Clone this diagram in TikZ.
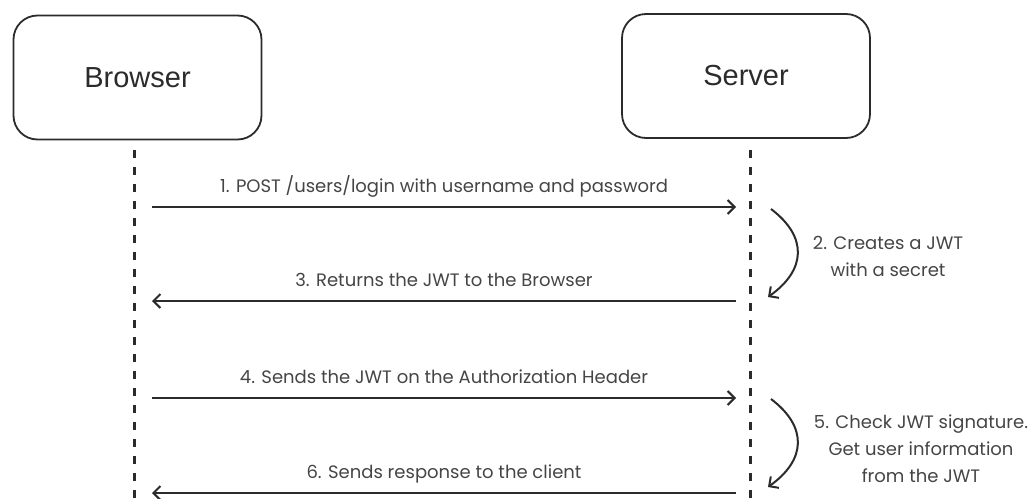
\documentclass[tikz,border=0pt]{standalone}
\usepackage{fontspec}
\setmainfont{Liberation Sans}
\newfontfamily\msgfont{Poppins}
\usetikzlibrary{arrows.meta}
\definecolor{ink}{HTML}{2B2B2B}
\definecolor{msgink}{HTML}{454545}
\tikzset{
  actor/.style={draw=ink, line width=1.8pt, rounded corners=24pt, minimum width=248pt, minimum height=124pt, font=\fontsize{29}{32}\selectfont, text=ink},
  lifeline/.style={draw=ink, line width=3pt, dash pattern=on 8pt off 9pt},
  msg/.style={draw=ink, line width=2pt, -{Straight Barb[length=7pt, width=14pt, line width=2pt]}},
  selfmsg/.style={draw=ink, line width=2pt, -{Straight Barb[length=7pt, width=14pt, line width=2pt]}},
  msglabel/.style={font=\msgfont\fontsize{18}{27}\selectfont, text=msgink, anchor=base, yshift=15pt, inner sep=0pt},
  notelabel/.style={font=\msgfont\fontsize{18}{27}\selectfont, text=msgink, align=center}
}
\begin{document}
\begin{tikzpicture}[x=1pt, y=-1pt]
  \useasboundingbox (0,0) rectangle (1032,498);
  % participants
  \node[actor] (browser) at (137.5,77.5) {Browser};
  \node[actor] (server) at (746,76) {Server};
  % lifelines
  \coordinate (bTop) at (134,150);
  \coordinate (bBot) at (134,500);
  \coordinate (sTop) at (750,150);
  \coordinate (sBot) at (750,500);
  \draw[lifeline] (bTop) -- (bBot);
  \draw[lifeline] (sTop) -- (sBot);
  % message end points
  \coordinate (b1) at (152,207); \coordinate (s1) at (736,207);
  \coordinate (s3) at (736,301); \coordinate (b3) at (152,301);
  \coordinate (b4) at (152,398); \coordinate (s4) at (736,398);
  \coordinate (s6) at (736,493); \coordinate (b6) at (152,493);
  % messages
  \draw[msg] (b1) -- node[msglabel] (m1) {1. POST /users/login with username and password} (s1);
  \draw[msg] (s3) -- node[msglabel] (m3) {3. Returns the JWT to the Browser} (b3);
  \draw[msg] (b4) -- node[msglabel] (m4) {4. Sends the JWT on the Authorization Header} (s4);
  \draw[msg] (s6) -- node[msglabel] (m6) {6. Sends response to the client} (b6);
  % server-side steps
  \coordinate (c2a) at (771,209); \coordinate (c2b) at (768,297);
  \coordinate (c5a) at (771,399); \coordinate (c5b) at (768,487);
  \draw[selfmsg] (c2a) .. controls (808,237) and (806,270) .. (c2b);
  \draw[selfmsg] (c5a) .. controls (808,427) and (806,460) .. (c5b);
  \node[notelabel] (n2) at (888,256) {2. Creates a JWT\\with a secret};
  \node[notelabel] (n5) at (921,449) {5. Check JWT signature.\\Get user information\\from the JWT};
\end{tikzpicture}
\end{document}
